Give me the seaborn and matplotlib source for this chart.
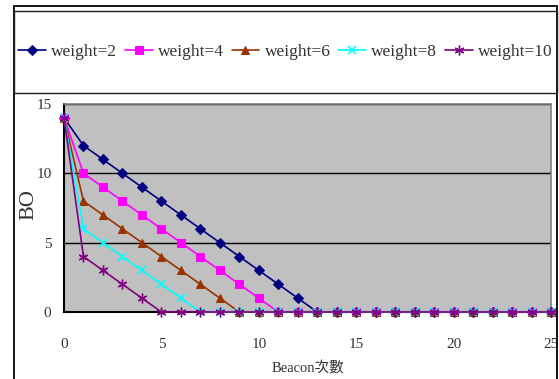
import matplotlib
matplotlib.use("Agg")
import matplotlib.pyplot as plt
from matplotlib.patches import Rectangle
import seaborn as sns

# Beacon count on the x axis and BO value for each weight setting
beacon = [0, 1, 2, 3, 4, 5, 6, 7, 8, 9, 10, 11, 12, 13, 14, 15, 16, 17, 18, 19, 20, 21, 22, 23, 24, 25]
bo_w2 = [14, 12, 11, 10, 9, 8, 7, 6, 5, 4, 3, 2, 1, 0, 0, 0, 0, 0, 0, 0, 0, 0, 0, 0, 0, 0]
bo_w4 = [14, 10, 9, 8, 7, 6, 5, 4, 3, 2, 1, 0, 0, 0, 0, 0, 0, 0, 0, 0, 0, 0, 0, 0, 0, 0]
bo_w6 = [14, 8, 7, 6, 5, 4, 3, 2, 1, 0, 0, 0, 0, 0, 0, 0, 0, 0, 0, 0, 0, 0, 0, 0, 0, 0]
bo_w8 = [14, 6, 5, 4, 3, 2, 1, 0, 0, 0, 0, 0, 0, 0, 0, 0, 0, 0, 0, 0, 0, 0, 0, 0, 0, 0]
bo_w10 = [14, 4, 3, 2, 1, 0, 0, 0, 0, 0, 0, 0, 0, 0, 0, 0, 0, 0, 0, 0, 0, 0, 0, 0, 0, 0]

series_labels = ["weight=2", "weight=4", "weight=6", "weight=8", "weight=10"]
x_ticks = [0, 5, 10, 15, 20, 25]
y_ticks = [0, 5, 10, 15]
x_title = "Beacon次數"
y_title = "BO"

sns.set_style("white")
plt.rcParams["font.family"] = ["Liberation Serif", "Noto Sans CJK TC"]

W, H = 559, 379
fig = plt.figure(figsize=(W / 100, H / 100), dpi=100)
fig.patch.set_facecolor("white")


def fx(px):
    return px / W


def fy(py):
    return 1 - py / H


# plot area in pixel terms: left 64, right 551, top 104, bottom 312
ax = fig.add_axes([fx(64), fy(312), (551 - 64) / W, (312 - 104) / H])
ax.set_facecolor("#C0C0C0")

styles = [
    dict(color="#000080", marker="D", markersize=5.0),
    dict(color="#FF00FF", marker="s", markersize=5.5),
    dict(color="#993300", marker="^", markersize=6.0),
    dict(color="#00FFFF", marker="x", markersize=6.0, markeredgewidth=1.2),
    dict(color="#800080", marker=(6, 2, 0), markersize=7.0, markeredgewidth=1.0),
]
all_series = [bo_w2, bo_w4, bo_w6, bo_w8, bo_w10]

for vals, lab, st in zip(all_series, series_labels, styles):
    sns.lineplot(
        x=beacon, y=vals, ax=ax, label=lab, linewidth=1.2,
        markeredgecolor=st["color"], clip_on=False, zorder=3, **st
    )

ax.set_xlim(0, 25)
ax.set_ylim(0, 15)
ax.set_xticks(x_ticks)
ax.set_yticks(y_ticks)
ax.yaxis.grid(True, color="black", linewidth=1.0)
ax.xaxis.grid(False)
ax.set_axisbelow(True)

for side in ["left", "bottom"]:
    ax.spines[side].set_color("black")
    ax.spines[side].set_linewidth(1.5)
for side in ["top", "right"]:
    ax.spines[side].set_color("#808080")
    ax.spines[side].set_linewidth(1.2)

ax.tick_params(axis="x", direction="in", length=3, width=1, color="black",
               pad=19, labelsize=11, labelcolor="#333333")
ax.tick_params(axis="y", direction="out", length=3, width=1, color="black",
               pad=6, labelsize=11, labelcolor="#333333")

ax.set_xlabel(x_title, fontsize=10.5, color="#333333")
ax.xaxis.label.set_va("center")
ax.xaxis.set_label_coords(0.5, (312 - 368) / (312 - 104))
ax.set_ylabel(y_title, fontsize=16, color="#333333")
ax.yaxis.label.set_va("center")
ax.yaxis.set_label_coords(-(64 - 29) / (551 - 64), 0.5 + (208 - 205) / (312 - 104))

handles, labels = ax.get_legend_handles_labels()
ax.get_legend().remove()
fig.legend(
    handles, labels, loc="center left", bbox_to_anchor=(fx(18), fy(52)),
    ncol=5, frameon=False, handlelength=1.6, handletextpad=0.3,
    columnspacing=0.45, borderpad=0, borderaxespad=0,
    prop={"size": 12.5}, labelcolor="#333333",
)

# chart frame and legend box
fig.add_artist(Rectangle((fx(13.5), fy(400)), fx(557) - fx(13.5), fy(6) - fy(400),
                         transform=fig.transFigure, fill=False, ec="black", lw=1.3))
fig.add_artist(Rectangle((fx(13.5), fy(93)), fx(557) - fx(13.5), fy(10.5) - fy(93),
                         transform=fig.transFigure, fill=False, ec="#222222", lw=1.0))

fig.savefig("out.png", dpi=100)
